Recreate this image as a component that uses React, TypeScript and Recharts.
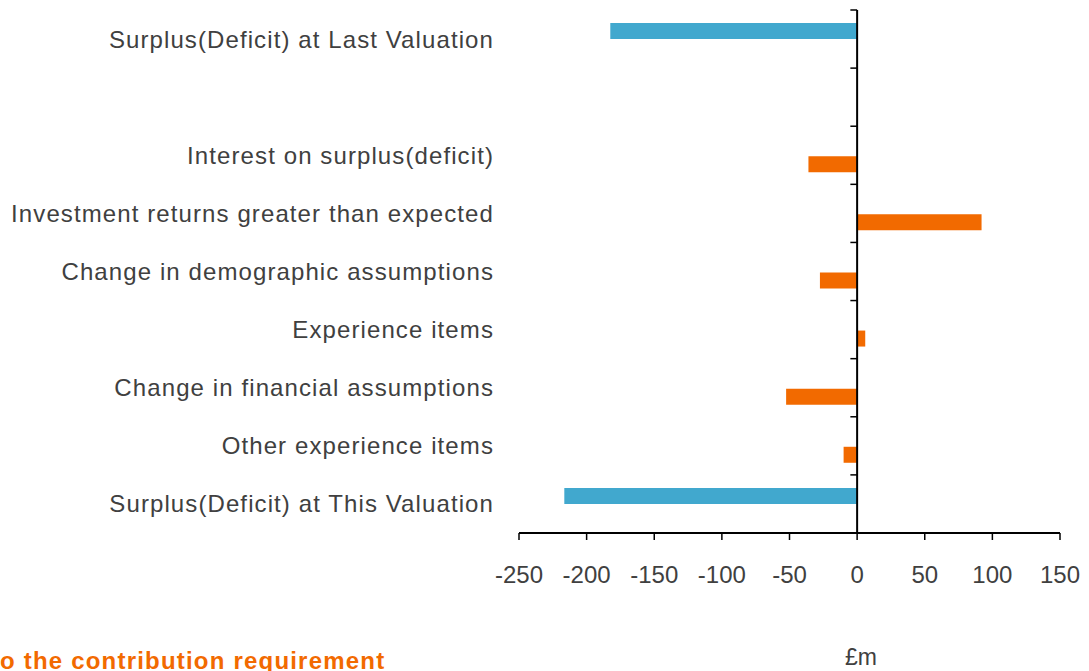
import React from 'react';
import { BarChart, Bar, XAxis, YAxis, ReferenceLine } from 'recharts';

const categories = [
  'Surplus(Deficit) at Last Valuation',
  ' ',
  'Interest on surplus(deficit)',
  'Investment returns greater than expected',
  'Change in demographic assumptions',
  'Experience items',
  'Change in financial assumptions',
  'Other experience items',
  'Surplus(Deficit) at This Valuation',
];
const surplusValues: (number | null)[] = [-182.5, null, null, null, null, null, null, null, -216.5];
const changeValues: (number | null)[] = [null, null, -36, 92, -27.5, 6, -52.5, -10, null];
const xTicks = [-250, -200, -150, -100, -50, 0, 50, 100, 150];
const unitLabel = '£m';
const footerText = 'o the contribution requirement';

const data = categories.map((c, i) => ({
  category: c,
  surplus: surplusValues[i],
  change: changeValues[i],
}));

const FONT = '"Liberation Sans", Arial, sans-serif';

export default function App() {
  return (
    <div
      style={{
        position: 'absolute',
        left: 0,
        top: 0,
        width: 1089,
        height: 671,
        background: '#fff',
        overflow: 'hidden',
        fontFamily: FONT,
      }}
    >
      <BarChart
        width={1089}
        height={671}
        data={data}
        layout="vertical"
        margin={{ top: 10, right: 29, bottom: 0, left: 0 }}
        barSize={16}
        barGap={1}
      >
        <XAxis
          xAxisId="x"
          type="number"
          domain={[-250, 150]}
          ticks={xTicks}
          interval={0}
          allowDataOverflow
          height={138}
          axisLine={{ stroke: '#000', strokeWidth: 2 }}
          tickLine={{ stroke: '#000', strokeWidth: 1.5 }}
          tickSize={7}
          tickMargin={26}
          tick={{ fill: '#404040', fontSize: 24, fontFamily: FONT }}
        />
        <YAxis
          yAxisId="cat"
          type="category"
          dataKey="category"
          width={519}
          axisLine={false}
          tickLine={false}
          tickSize={0}
          tickMargin={25}
          interval={0}
          tick={{ fill: '#404040', fontSize: 24, fontFamily: FONT, letterSpacing: 1.1 }}
        />
        <Bar dataKey="surplus" xAxisId="x" yAxisId="cat" fill="#41A8CE" isAnimationActive={false} />
        <Bar dataKey="change" xAxisId="x" yAxisId="cat" fill="#F26A00" isAnimationActive={false} />
        <ReferenceLine x={0} xAxisId="x" yAxisId="cat" stroke="#000" strokeWidth={2} />
        {categories.map((c) => (
          <ReferenceLine
            key={'s' + c}
            xAxisId="x"
            yAxisId="cat"
            position="start"
            segment={[
              { x: -5, y: c },
              { x: 0, y: c },
            ]}
            stroke="#000"
            strokeWidth={1.5}
          />
        ))}
        <ReferenceLine
          xAxisId="x"
          yAxisId="cat"
          position="end"
          segment={[
            { x: -5, y: categories[categories.length - 1] },
            { x: 0, y: categories[categories.length - 1] },
          ]}
          stroke="#000"
          strokeWidth={1.5}
        />
      </BarChart>
      <svg
        width={1089}
        height={671}
        style={{ position: 'absolute', left: 0, top: 0, pointerEvents: 'none' }}
      >
        <text x={861} y={665} textAnchor="middle" fontSize={23} fill="#404040" fontFamily={FONT}>
          {unitLabel}
        </text>
        <text x={0} y={669} fontSize={24} fontWeight="bold" fill="#F26A00" fontFamily={FONT} letterSpacing={1.2}>
          {footerText}
        </text>
      </svg>
    </div>
  );
}
